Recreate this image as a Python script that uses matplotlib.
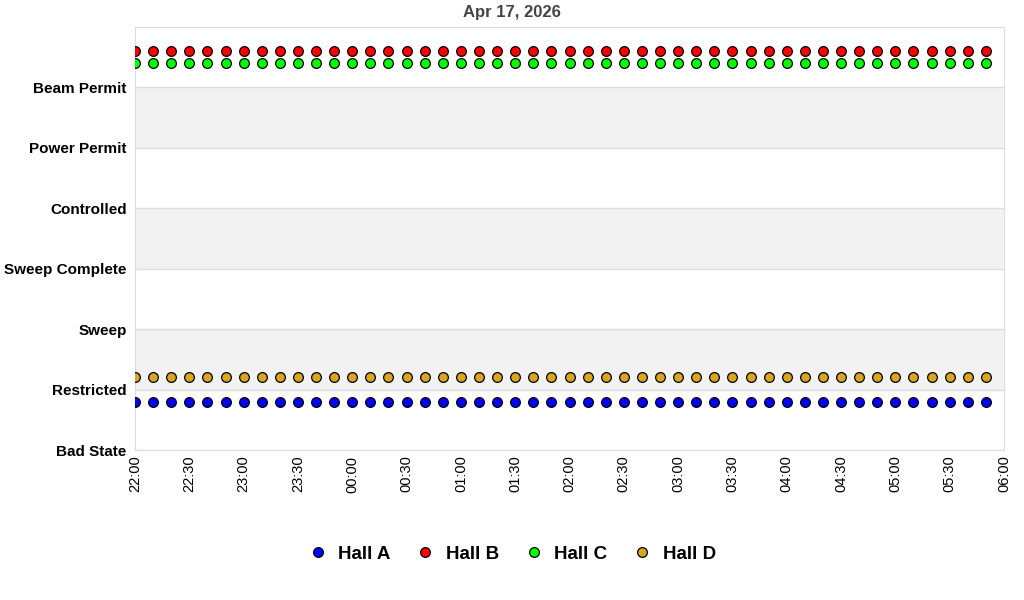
import matplotlib
matplotlib.use("Agg")
import matplotlib.pyplot as plt
import matplotlib.dates as mdates
import pandas as pd

plt.rcParams['font.family'] = ['Liberation Sans', 'DejaVu Sans']

title = "Apr 17, 2026"
state_labels = ["Bad State", "Restricted", "Sweep", "Sweep Complete",
                "Controlled", "Power Permit", "Beam Permit"]
times = ["22:00", "22:10", "22:20", "22:30", "22:40", "22:50",
         "23:00", "23:10", "23:20", "23:30", "23:40", "23:50",
         "00:00", "00:10", "00:20", "00:30", "00:40", "00:50",
         "01:00", "01:10", "01:20", "01:30", "01:40", "01:50",
         "02:00", "02:10", "02:20", "02:30", "02:40", "02:50",
         "03:00", "03:10", "03:20", "03:30", "03:40", "03:50",
         "04:00", "04:10", "04:20", "04:30", "04:40", "04:50",
         "05:00", "05:10", "05:20", "05:30", "05:40", "05:50"]
hall_a = [0.8, 0.8, 0.8, 0.8, 0.8, 0.8, 0.8, 0.8, 0.8, 0.8, 0.8, 0.8,
          0.8, 0.8, 0.8, 0.8, 0.8, 0.8, 0.8, 0.8, 0.8, 0.8, 0.8, 0.8,
          0.8, 0.8, 0.8, 0.8, 0.8, 0.8, 0.8, 0.8, 0.8, 0.8, 0.8, 0.8,
          0.8, 0.8, 0.8, 0.8, 0.8, 0.8, 0.8, 0.8, 0.8, 0.8, 0.8, 0.8]
hall_b = [6.6, 6.6, 6.6, 6.6, 6.6, 6.6, 6.6, 6.6, 6.6, 6.6, 6.6, 6.6,
          6.6, 6.6, 6.6, 6.6, 6.6, 6.6, 6.6, 6.6, 6.6, 6.6, 6.6, 6.6,
          6.6, 6.6, 6.6, 6.6, 6.6, 6.6, 6.6, 6.6, 6.6, 6.6, 6.6, 6.6,
          6.6, 6.6, 6.6, 6.6, 6.6, 6.6, 6.6, 6.6, 6.6, 6.6, 6.6, 6.6]
hall_c = [6.4, 6.4, 6.4, 6.4, 6.4, 6.4, 6.4, 6.4, 6.4, 6.4, 6.4, 6.4,
          6.4, 6.4, 6.4, 6.4, 6.4, 6.4, 6.4, 6.4, 6.4, 6.4, 6.4, 6.4,
          6.4, 6.4, 6.4, 6.4, 6.4, 6.4, 6.4, 6.4, 6.4, 6.4, 6.4, 6.4,
          6.4, 6.4, 6.4, 6.4, 6.4, 6.4, 6.4, 6.4, 6.4, 6.4, 6.4, 6.4]
hall_d = [1.2, 1.2, 1.2, 1.2, 1.2, 1.2, 1.2, 1.2, 1.2, 1.2, 1.2, 1.2,
          1.2, 1.2, 1.2, 1.2, 1.2, 1.2, 1.2, 1.2, 1.2, 1.2, 1.2, 1.2,
          1.2, 1.2, 1.2, 1.2, 1.2, 1.2, 1.2, 1.2, 1.2, 1.2, 1.2, 1.2,
          1.2, 1.2, 1.2, 1.2, 1.2, 1.2, 1.2, 1.2, 1.2, 1.2, 1.2, 1.2]
series = [("Hall A", hall_a, "#0000ff"), ("Hall B", hall_b, "#ff0000"),
          ("Hall C", hall_c, "#00ff00"), ("Hall D", hall_d, "#daa520")]
x_start = "2026-04-16 22:00"
x_end = "2026-04-17 06:00"

# convert times to datetimes (crossing midnight)
dt = []
day = pd.Timestamp("2026-04-16")
prev = None
for t in times:
    h = int(t[:2])
    if prev is not None and h < prev:
        day = day + pd.Timedelta(days=1)
    prev = h
    dt.append(pd.Timestamp(f"{day.date()} {t}"))

fig = plt.figure(figsize=(10.24, 6.0), dpi=100)
ax = fig.add_axes([135/1024, 150/600, (1004-135)/1024, (450-27)/600])

ax.set_ylim(0, 7)
ax.set_xlim(pd.Timestamp(x_start), pd.Timestamp(x_end))
for lo in (1, 3, 5):
    ax.axhspan(lo, lo + 1, color="#f2f2f2", zorder=0, lw=0)
ax.set_yticks(range(len(state_labels)))
ax.set_yticklabels(state_labels, fontsize=11, fontweight="bold")
ax.yaxis.grid(True, color="#dddddd", lw=1, zorder=1)
ax.tick_params(axis="y", length=0, pad=6)

ax.xaxis.set_major_locator(mdates.MinuteLocator(byminute=[0, 30]))
ax.xaxis.set_major_formatter(mdates.DateFormatter("%H:%M"))
ax.tick_params(axis="x", length=0, labelrotation=90, labelsize=10.5, pad=4)
for s in ax.spines.values():
    s.set_color("#dddddd")

for name, vals, col in series:
    ax.plot(dt, vals, ls="none", marker="o", ms=7, mfc=col, mec="black",
            mew=0.9, label=name, zorder=3, clip_on=True)

fig.text(0.5, 1 - 12/600, title, ha="center", va="center",
         fontsize=12, fontweight="bold", color="#444444")

handles, labels = ax.get_legend_handles_labels()
fig.legend(handles, labels, loc="center", bbox_to_anchor=(0.5, 1 - 554/600),
           ncol=4, frameon=False, prop={"size": 13.5, "weight": "bold"},
           handletextpad=0.6, columnspacing=1.35, markerscale=1.0,
           handlelength=1.0)

fig.savefig("out.png", dpi=100)
